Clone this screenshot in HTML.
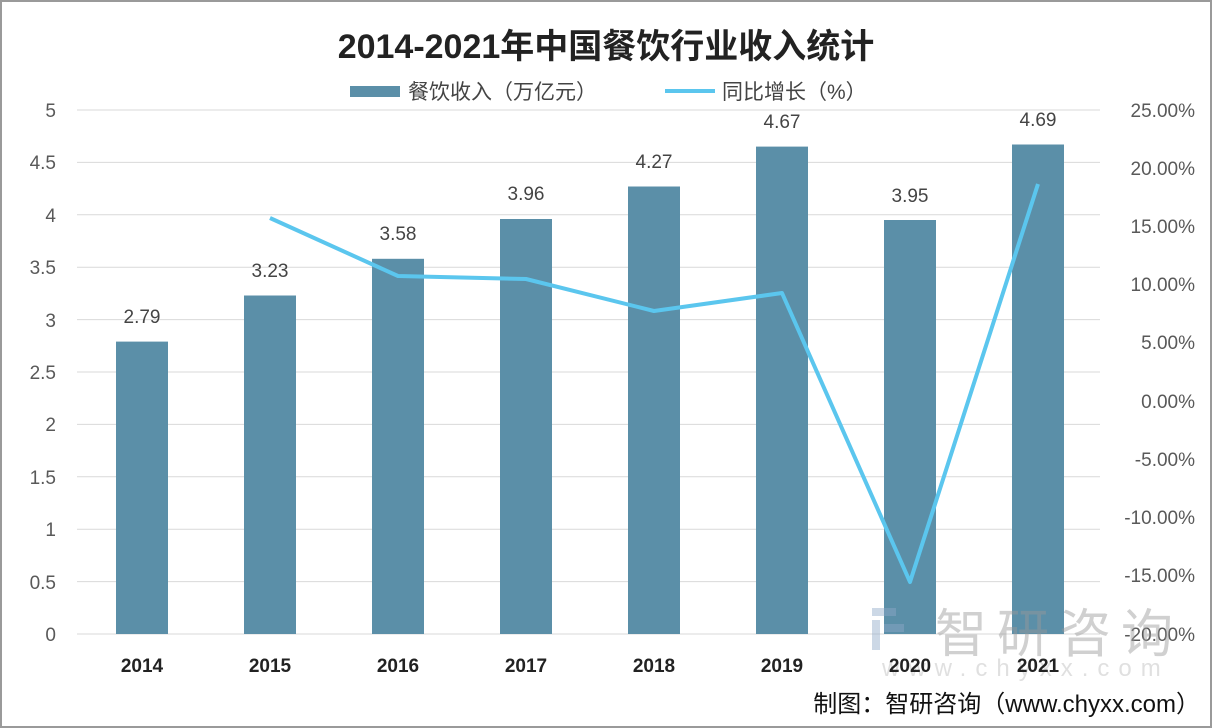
<!DOCTYPE html>
<html><head><meta charset="utf-8"><style>
html,body{margin:0;padding:0;background:#fff}
svg{display:block}
text{font-family:"Liberation Sans","Noto Sans CJK SC",sans-serif}
</style></head><body>
<svg width="1212" height="728" viewBox="0 0 1212 728" xmlns="http://www.w3.org/2000/svg">
<rect x="1" y="1" width="1210" height="726" fill="#fff" stroke="#9a9a9a" stroke-width="2"/>
<text x="606" y="58" text-anchor="middle" font-size="34" font-weight="bold" fill="#222">2014-2021年中国餐饮行业收入统计</text>
<rect x="350" y="86" width="50" height="11" fill="#5b8fa8"/>
<text x="408" y="99" font-size="21" fill="#444">餐饮收入（万亿元）</text>
<line x1="665" y1="91" x2="715" y2="91" stroke="#5bc6ee" stroke-width="4"/>
<text x="722" y="99" font-size="21" fill="#444">同比增长（%）</text>
<g stroke="#d9d9d9" stroke-width="1">
<line x1="77" y1="110" x2="1100" y2="110"/><line x1="77" y1="162.4" x2="1100" y2="162.4"/>
<line x1="77" y1="214.8" x2="1100" y2="214.8"/><line x1="77" y1="267.2" x2="1100" y2="267.2"/>
<line x1="77" y1="319.6" x2="1100" y2="319.6"/><line x1="77" y1="372" x2="1100" y2="372"/>
<line x1="77" y1="424.4" x2="1100" y2="424.4"/><line x1="77" y1="476.8" x2="1100" y2="476.8"/>
<line x1="77" y1="529.2" x2="1100" y2="529.2"/><line x1="77" y1="581.6" x2="1100" y2="581.6"/>
<line x1="77" y1="634" x2="1100" y2="634"/>
</g>
<g font-size="19" fill="#595959" text-anchor="end">
<text x="56" y="117">5</text><text x="56" y="169">4.5</text><text x="56" y="222">4</text>
<text x="56" y="274">3.5</text><text x="56" y="327">3</text><text x="56" y="379">2.5</text>
<text x="56" y="431">2</text><text x="56" y="484">1.5</text><text x="56" y="536">1</text>
<text x="56" y="589">0.5</text><text x="56" y="641">0</text>
</g>
<g font-size="19" fill="#595959" text-anchor="end">
<text x="1195" y="117">25.00%</text><text x="1195" y="175">20.00%</text><text x="1195" y="233">15.00%</text>
<text x="1195" y="291">10.00%</text><text x="1195" y="349">5.00%</text><text x="1195" y="408">0.00%</text>
<text x="1195" y="466">-5.00%</text><text x="1195" y="524">-10.00%</text><text x="1195" y="582">-15.00%</text>
<text x="1195" y="641">-20.00%</text>
</g>
<g fill="#5b8fa8">
<rect x="116" y="341.6" width="52" height="292.4"/>
<rect x="244" y="295.5" width="52" height="338.5"/>
<rect x="372" y="258.8" width="52" height="375.2"/>
<rect x="500" y="219" width="52" height="415"/>
<rect x="628" y="186.5" width="52" height="447.5"/>
<rect x="756" y="146.6" width="52" height="487.4"/>
<rect x="884" y="220" width="52" height="414"/>
<rect x="1012" y="144.5" width="52" height="489.5"/>
</g>
<g font-size="19" fill="#444" text-anchor="middle">
<text x="142" y="323">2.79</text><text x="270" y="277">3.23</text><text x="398" y="240">3.58</text>
<text x="526" y="200">3.96</text><text x="654" y="168">4.27</text><text x="782" y="128">4.67</text>
<text x="910" y="202">3.95</text><text x="1038" y="126">4.69</text>
</g>
<polyline points="270,218 398,276 526,279 654,311 782,293 910,582 1038,184" fill="none" stroke="#5bc6ee" stroke-width="4" stroke-linejoin="round"/>
<g opacity="0.45">
<rect x="872" y="608" width="24" height="8" fill="#8fa9c8"/>
<rect x="872" y="620" width="8" height="30" fill="#8fa9c8"/>
<rect x="884" y="624" width="20" height="8" fill="#8fa9c8"/>
<text x="935" y="652" font-size="52" fill="#999" letter-spacing="10">智研咨询</text>
<text x="882" y="676" font-size="24" fill="#bbb" letter-spacing="9">www.chyxx.com</text>
</g>
<g font-size="19" fill="#222" font-weight="bold" text-anchor="middle">
<text x="142" y="672">2014</text><text x="270" y="672">2015</text><text x="398" y="672">2016</text>
<text x="526" y="672">2017</text><text x="654" y="672">2018</text><text x="782" y="672">2019</text>
<text x="910" y="672">2020</text><text x="1038" y="672">2021</text>
</g>
<text x="1200" y="712" text-anchor="end" font-size="24" fill="#111">制图：智研咨询（www.chyxx.com）</text>
</svg>
</body></html>
